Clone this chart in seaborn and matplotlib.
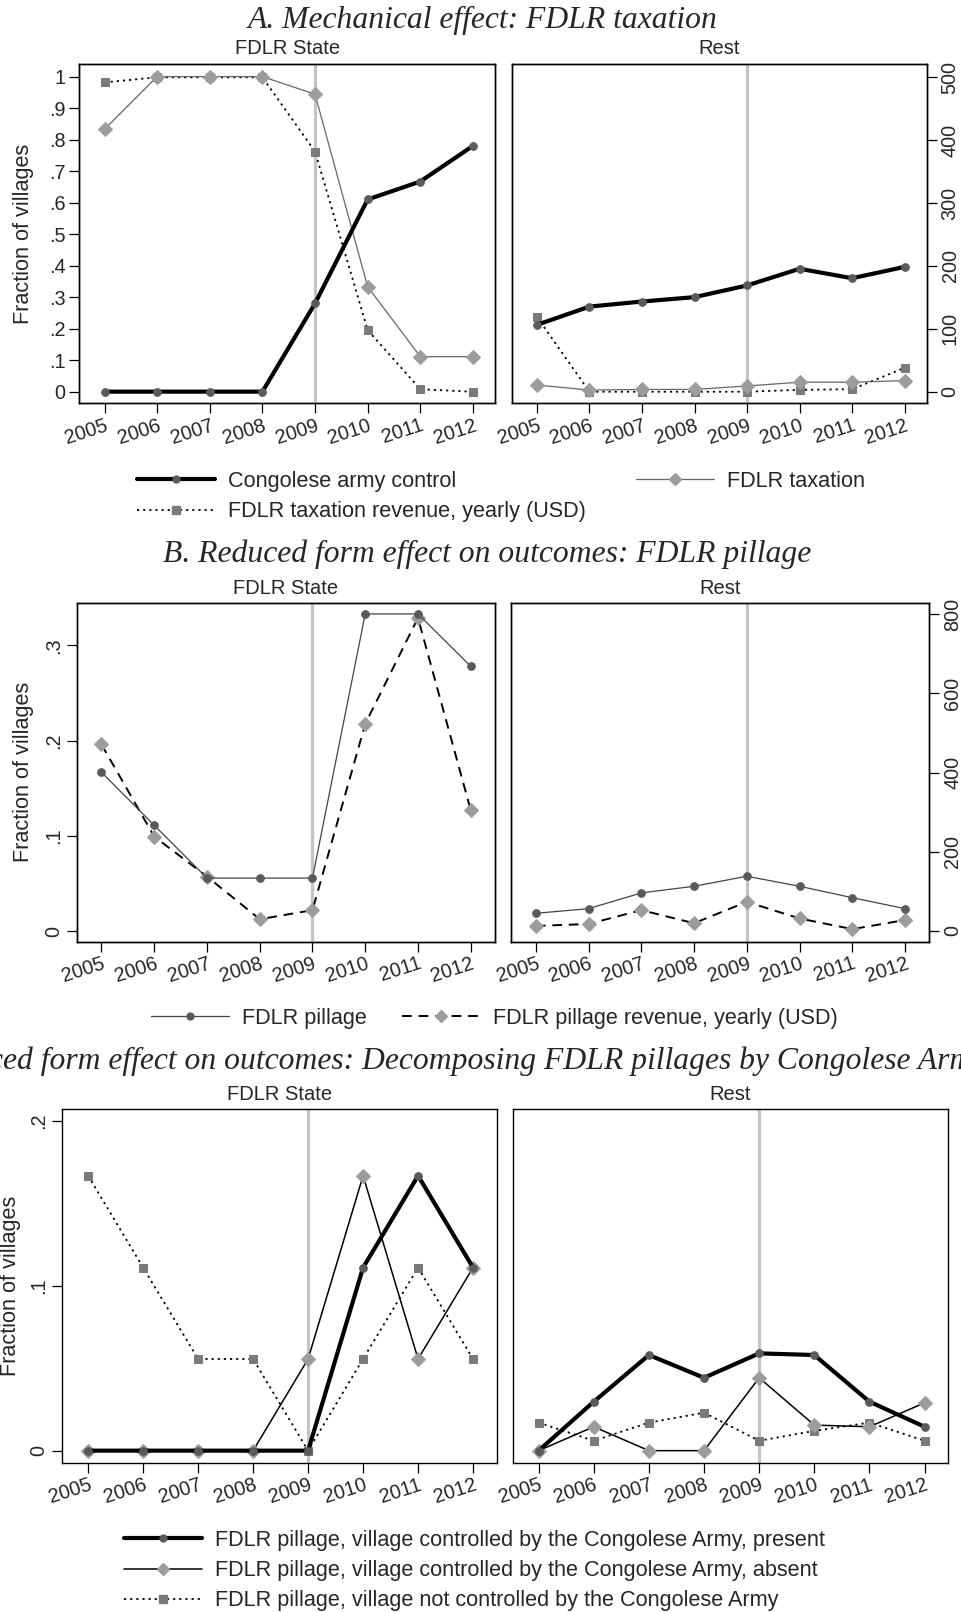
import matplotlib
matplotlib.use("Agg")
import matplotlib.pyplot as plt
from matplotlib.lines import Line2D
import seaborn as sns
import pandas as pd

sns.set_theme(style="white")
plt.rcParams['font.family'] = ['Liberation Sans', 'DejaVu Sans']

# ---------------- data ----------------
years = [2005, 2006, 2007, 2008, 2009, 2010, 2011, 2012]
year_labels = [str(y) for y in years]

# Panel A
a_state_army = [0, 0, 0, 0, 0.28, 0.61, 0.667, 0.78]
a_state_tax = [0.833, 1, 1, 1, 0.944, 0.333, 0.111, 0.111]
a_state_rev = [492, 500, 500, 500, 382, 98, 4, 0]
a_rest_army = [0.212, 0.27, 0.286, 0.30, 0.337, 0.39, 0.36, 0.396]
a_rest_tax = [0.021, 0.005, 0.007, 0.007, 0.018, 0.03, 0.03, 0.035]
a_rest_rev = [119, 0, 0, 0, 0, 3, 4, 38]

# Panel B
b_state_pill = [0.1667, 0.111, 0.0556, 0.0556, 0.0556, 0.333, 0.333, 0.278]
b_state_rev = [471, 238, 137, 29, 52, 523, 791, 305]
b_rest_pill = [0.0186, 0.0235, 0.040, 0.047, 0.0575, 0.047, 0.035, 0.0235]
b_rest_rev = [12, 17, 52, 19, 73, 31, 4, 27]

# Panel C
c_state_present = [0, 0, 0, 0, 0, 0.111, 0.1667, 0.111]
c_state_absent = [0, 0, 0, 0, 0.0556, 0.1667, 0.0556, 0.111]
c_state_notctrl = [0.1667, 0.111, 0.0556, 0.0556, 0, 0.0556, 0.111, 0.0556]
c_rest_present = [0, 0.0297, 0.058, 0.0442, 0.059, 0.058, 0.0297, 0.0145]
c_rest_absent = [0, 0.0145, 0, 0, 0.0442, 0.0155, 0.0145, 0.029]
c_rest_notctrl = [0.017, 0.006, 0.017, 0.023, 0.006, 0.012, 0.017, 0.006]

a_ticks = [0, .1, .2, .3, .4, .5, .6, .7, .8, .9, 1]
a_tick_labels = ["0", ".1", ".2", ".3", ".4", ".5", ".6", ".7", ".8", ".9", "1"]
a_rev_ticks = [0, 100, 200, 300, 400, 500]
b_ticks = [0, .1, .2, .3]
b_tick_labels = ["0", ".1", ".2", ".3"]
b_rev_ticks = [0, 200, 400, 600, 800]
c_ticks = [0, .1, .2]
c_tick_labels = ["0", ".1", ".2"]

# --------------- styles ---------------
W, H = 961, 1612
DARK = "#5a5a5a"
MID = "#7a7a7a"
LIGHT = "#9c9c9c"
VLINE = "#c4c4c4"
TXT = 14.5
TICK = 14.3
LEG = 15.6

army_style = dict(color="black", linewidth=3.0, marker="o", markersize=5.5,
                  markerfacecolor=DARK, markeredgecolor=DARK)
tax_style = dict(color="#666666", linewidth=0.9, marker="D", markersize=7,
                 markerfacecolor=LIGHT, markeredgecolor=LIGHT)
rev_style = dict(color="black", linewidth=1.3, linestyle=(0, (1.2, 2.2)), marker="s",
                 markersize=6, markerfacecolor=MID, markeredgecolor=MID)
pill_style = dict(color="#444444", linewidth=0.9, marker="o", markersize=5.5,
                  markerfacecolor=DARK, markeredgecolor=DARK)
pillrev_style = dict(color="black", linewidth=1.4, linestyle=(0, (5, 3.5)), marker="D",
                     markersize=7, markerfacecolor=LIGHT, markeredgecolor=LIGHT)
pres_style = dict(color="black", linewidth=3.0, marker="o", markersize=5.5,
                  markerfacecolor=DARK, markeredgecolor=DARK)
abs_style = dict(color="black", linewidth=1.1, marker="D", markersize=7,
                 markerfacecolor=LIGHT, markeredgecolor=LIGHT)
notc_style = dict(color="black", linewidth=1.3, linestyle=(0, (1.2, 2.2)), marker="s",
                  markersize=6, markerfacecolor=MID, markeredgecolor=MID)


def rect(x0, x1, ytop, ybot):
    return [x0 / W, 1 - ybot / H, (x1 - x0) / W, (ybot - ytop) / H]


def fx(px):
    return px / W


def fy(py):
    return 1 - py / H


def line(ax, y, style):
    df = pd.DataFrame({"year": years, "v": y})
    kw = dict(style)
    sns.lineplot(data=df, x="year", y="v", ax=ax, legend=False, **kw)


def style_axes(ax, xlim, ylim):
    ax.set_xlim(*xlim)
    ax.set_ylim(*ylim)
    ax.set_xlabel("")
    ax.set_ylabel("")
    ax.set_xticks(years)
    ax.set_xticklabels(year_labels, rotation=18, ha="right", rotation_mode="anchor",
                       fontsize=TICK)
    ax.tick_params(axis="x", direction="out", length=7, width=0.9, color="black",
                   pad=2, bottom=True)
    for s in ax.spines.values():
        s.set_color("black")
        s.set_linewidth(1.0)
    ax.grid(False)


fig = plt.figure(figsize=(W / 100, H / 100), dpi=100)
fig.patch.set_facecolor("white")

title_font = dict(family=["Liberation Serif", "DejaVu Serif"], style="italic", fontsize=22.8)


def panel(rects, xlim, ylim, ylim2, lines_fn, yticks, ylabels, yrot, rev_ticks,
          sub_y, ylab_x):
    axes = []
    for i, r in enumerate(rects):
        ax = fig.add_axes(r)
        ax2 = None
        if ylim2 is not None:
            ax2 = ax.twinx()
            ax2.set_ylim(*ylim2)
            ax2.axvline(2009, color=VLINE, linewidth=2.3, zorder=0)
            ax.set_zorder(ax2.get_zorder() + 1)
            ax.patch.set_visible(False)
        else:
            ax.axvline(2009, color=VLINE, linewidth=2.3, zorder=0)
        lines_fn(i, ax, ax2)
        style_axes(ax, xlim, ylim)
        if ax2 is not None:
            ax2.set_xlim(*xlim)
            ax2.set_ylim(*ylim2)
            ax2.grid(False)
            ax2.set_ylabel("")
            for s in ax2.spines.values():
                s.set_color("black")
                s.set_linewidth(1.0)
            if i == 1:
                ax2.set_yticks(rev_ticks)
                ax2.set_yticklabels([str(t) for t in rev_ticks], rotation=90,
                                    va="center", fontsize=TICK)
                ax2.tick_params(axis="y", direction="out", length=7, width=0.9,
                                color="black", right=True, pad=3)
            else:
                ax2.set_yticks([])
        if i == 0:
            ax.set_yticks(yticks)
            if yrot:
                ax.set_yticklabels(ylabels, rotation=90, va="center", fontsize=TICK)
            else:
                ax.set_yticklabels(ylabels, fontsize=TICK)
            ax.tick_params(axis="y", direction="out", length=7, width=0.9,
                           color="black", left=True, pad=3)
        else:
            ax.set_yticks([])
        axes.append(ax)
    for ax, name in zip(axes, ["FDLR State", "Rest"]):
        pos = ax.get_position()
        fig.text(pos.x0 + pos.width / 2, fy(sub_y), name, ha="center", va="center",
                 fontsize=TXT)
    top = rects[0][1] + rects[0][3]
    bot = rects[0][1]
    fig.text(fx(ylab_x), (top + bot) / 2, "Fraction of villages", rotation=90,
             ha="center", va="center", fontsize=15.6)
    return axes


# ---------------- Panel A ----------------
def lines_a(i, ax, ax2):
    line(ax2, [a_state_rev, a_rest_rev][i], rev_style)
    line(ax, [a_state_tax, a_rest_tax][i], tax_style)
    line(ax, [a_state_army, a_rest_army][i], army_style)


panel([rect(79.3, 495, 64.3, 403.3), rect(511.7, 926.7, 64.3, 403.3)],
      (2004.52, 2012.42), (-0.037, 1.039), (-18.4, 520.7), lines_a,
      a_ticks, a_tick_labels, False, a_rev_ticks, 49, 24)
fig.text(fx(483), fy(20), "A. Mechanical effect: FDLR taxation", ha="center",
         va="center", **title_font)

# ---------------- Panel B ----------------
def lines_b(i, ax, ax2):
    line(ax2, [b_state_rev, b_rest_rev][i], pillrev_style)
    line(ax, [b_state_pill, b_rest_pill][i], pill_style)


panel([rect(76.7, 495, 602.5, 941.5), rect(511, 929.3, 602.5, 941.5)],
      (2004.53, 2012.46), (-0.011, 0.345), (-27.3, 830), lines_b,
      b_ticks, b_tick_labels, True, b_rev_ticks, 588, 24)
fig.text(fx(487), fy(554), "B. Reduced form effect on outcomes: FDLR pillage",
         ha="center", va="center", **title_font)

# ---------------- Panel C ----------------
def lines_c(i, ax, ax2):
    line(ax, [c_state_notctrl, c_rest_notctrl][i], notc_style)
    line(ax, [c_state_absent, c_rest_absent][i], abs_style)
    line(ax, [c_state_present, c_rest_present][i], pres_style)


panel([rect(62.3, 496.7, 1109.3, 1462.7), rect(512.7, 948.3, 1109.3, 1462.7)],
      (2004.53, 2012.43), (-0.0073, 0.207), None, lines_c,
      c_ticks, c_tick_labels, True, None, 1095, 11)

# the reference title is wider than the page and is cut at both edges
c_title = ("C. Reduced form effect on outcomes: Decomposing FDLR pillages by "
           "Congolese Army presence")
fig.canvas.draw()
rend = fig.canvas.get_renderer()
tmp = fig.text(0, 0, "C. Reduc", **title_font)
wpx = tmp.get_window_extent(rend).width
tmp.remove()
fig.text(fx(-wpx + 3), fy(1061), c_title, ha="left", va="center", **title_font)

# ---------------- legends ----------------
def h(style):
    s = dict(style)
    s["markersize"] = s["markersize"] * 0.9
    return Line2D([0], [0], **s)


leg_kw = dict(frameon=False, fontsize=LEG, handlelength=3.6, handletextpad=0.6,
              borderaxespad=0, borderpad=0, labelspacing=0.42)

fig.legend([h(army_style), h(rev_style), h(tax_style)],
           ["Congolese army control", "FDLR taxation revenue, yearly (USD)", "FDLR taxation"],
           loc="upper left", bbox_to_anchor=(fx(137), fy(471)), ncol=2,
           columnspacing=2.3, **leg_kw)

fig.legend([h(pill_style), h(pillrev_style)],
           ["FDLR pillage", "FDLR pillage revenue, yearly (USD)"],
           loc="upper left", bbox_to_anchor=(fx(151), fy(1008)), ncol=2,
           columnspacing=1.6, **leg_kw)

fig.legend([h(pres_style), h(abs_style), h(notc_style)],
           ["FDLR pillage, village controlled by the Congolese Army, present",
            "FDLR pillage, village controlled by the Congolese Army, absent",
            "FDLR pillage, village not controlled by the Congolese Army"],
           loc="upper left", bbox_to_anchor=(fx(124), fy(1530)), ncol=1, **leg_kw)

fig.savefig("out.png", dpi=100, facecolor="white")
